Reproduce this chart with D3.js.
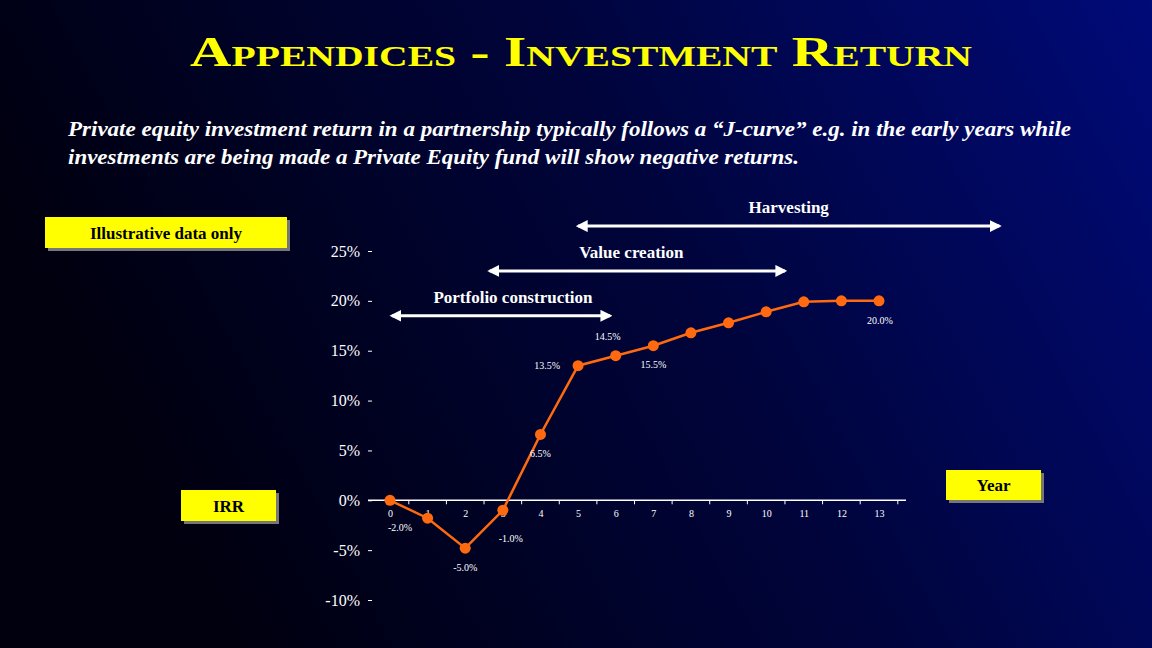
<!DOCTYPE html>
<html><head><meta charset="utf-8">
<script src="https://cdn.jsdelivr.net/npm/d3@7"></script>
<style>body{margin:0;overflow:hidden}</style>
</head><body><svg id="c" width="1152" height="648"></svg>
<script>
const years=[0,1,2,3,4,5,6,7,8,9,10,11,12,13];
const irr=[0,-1.8,-4.8,-1.0,6.6,13.5,14.5,15.5,16.8,17.8,18.9,19.9,20.0,20.0];
const yTicks=[-10,-5,0,5,10,15,20,25];
const pointLabels=[
 {i:0,t:"-2.0%",dx:10,dy:31},{i:2,t:"-5.0%",dx:0,dy:23},{i:3,t:"-1.0%",dx:8,dy:32},
 {i:4,t:"6.5%",dx:0,dy:23},{i:5,t:"13.5%",dx:-31,dy:3},{i:6,t:"14.5%",dx:-8,dy:-16},
 {i:7,t:"15.5%",dx:0,dy:22},{i:13,t:"20.0%",dx:1,dy:23}];
const phases=[
 {name:"Harvesting",x0:5.0,x1:16.2,y:27.5,lx:0},
 {name:"Value creation",x0:2.65,x1:10.5,y:23,lx:-6},
 {name:"Portfolio construction",x0:0.05,x1:5.85,y:18.5,lx:12}];

const svg=d3.select("#c");
const defs=svg.append("defs");
const g=defs.append("linearGradient").attr("id","bg").attr("x1","0").attr("x2","1").attr("y1","0.3").attr("y2","0");
g.append("stop").attr("offset","0").attr("stop-color","#00000f");
g.append("stop").attr("offset","0.5").attr("stop-color","#00043a");
g.append("stop").attr("offset","1").attr("stop-color","#000a78");
defs.append("marker").attr("id","ar").attr("viewBox","0 0 10 10").attr("refX",8).attr("refY",5)
 .attr("markerWidth",4).attr("markerHeight",4).attr("orient","auto-start-reverse")
 .append("path").attr("d","M0,0L10,5L0,10z").attr("fill","#fff");
svg.append("rect").attr("width",1152).attr("height",648).attr("fill","url(#bg)");

svg.append("text").attr("x",190).attr("y",66)
 .attr("font-family","Liberation Serif").attr("font-weight","bold").attr("font-size",42)
 .attr("fill","#ffff00").style("font-variant","small-caps")
 .attr("textLength",782).attr("lengthAdjust","spacingAndGlyphs")
 .text("Appendices - Investment Return");
const sub=svg.append("text").attr("font-family","Liberation Serif").attr("font-style","italic")
 .attr("font-weight","bold").attr("font-size",20).attr("fill","#fff");
sub.append("tspan").attr("x",68).attr("y",136).attr("textLength",1003).attr("lengthAdjust","spacingAndGlyphs")
 .text("Private equity investment return in a partnership typically follows a \u201cJ-curve\u201d e.g. in the early years while");
sub.append("tspan").attr("x",68).attr("y",164).attr("textLength",731).attr("lengthAdjust","spacingAndGlyphs")
 .text("investments are being made a Private Equity fund will show negative returns.");

const x=d3.scaleLinear().domain([0,13]).range([390,879]);
const y=d3.scaleLinear().domain([-10,25]).range([600,251]);

const ya=svg.append("g").attr("transform","translate(372,0)")
 .call(d3.axisLeft(y).tickValues(yTicks).tickFormat(d=>d+"%").tickSize(4).tickPadding(8));
ya.select(".domain").remove();
ya.selectAll("line").attr("stroke","#fff");
ya.selectAll("text").attr("fill","#fff").attr("font-family","Liberation Serif").attr("font-size",16);

const xa=svg.append("g").attr("transform",`translate(0,${y(0)})`)
 .call(d3.axisBottom(x).tickValues(years).tickSize(0).tickPadding(10));
xa.select(".domain").attr("d","M368,0H906").attr("stroke","#fff").attr("stroke-width",1.5);
xa.selectAll("text").attr("fill","#fff").attr("font-family","Liberation Serif").attr("font-size",10);
xa.selectAll(".mt").data(d3.range(0,14.5,0.5).filter(v=>v%1!==0)).enter().append("line")
 .attr("x1",d=>x(d)).attr("x2",d=>x(d)).attr("y1",0).attr("y2",4).attr("stroke","#fff");

svg.append("path").datum(irr).attr("fill","none").attr("stroke","#ff6a10").attr("stroke-width",2.5)
 .attr("d",d3.line().x((d,i)=>x(years[i])).y(d=>y(d)));
svg.selectAll(".pt").data(irr).enter().append("circle").attr("cx",(d,i)=>x(years[i])).attr("cy",d=>y(d))
 .attr("r",5.5).attr("fill","#ff6a10");
svg.selectAll(".pl").data(pointLabels).enter().append("text")
 .attr("x",d=>x(years[d.i])+d.dx).attr("y",d=>y(irr[d.i])+d.dy).attr("text-anchor","middle")
 .attr("font-family","Liberation Serif").attr("font-size",10).attr("fill","#fff").text(d=>d.t);

phases.forEach(p=>{
 svg.append("line").attr("x1",x(p.x0)).attr("x2",x(p.x1)).attr("y1",y(p.y)).attr("y2",y(p.y))
  .attr("stroke","#fff").attr("stroke-width",3).attr("marker-start","url(#ar)").attr("marker-end","url(#ar)");
 svg.append("text").attr("x",(x(p.x0)+x(p.x1))/2+p.lx).attr("y",y(p.y)-13).attr("text-anchor","middle")
  .attr("font-family","Liberation Serif").attr("font-weight","bold").attr("font-size",17).attr("fill","#fff").text(p.name);
});

function box(x0,y0,w,h,t){
 svg.append("rect").attr("x",x0+3).attr("y",y0+3).attr("width",w).attr("height",h).attr("fill","#777");
 svg.append("rect").attr("x",x0).attr("y",y0).attr("width",w).attr("height",h).attr("fill","#ffff00");
 svg.append("text").attr("x",x0+w/2).attr("y",y0+h/2+6).attr("text-anchor","middle")
  .attr("font-family","Liberation Serif").attr("font-weight","bold").attr("font-size",17).attr("fill","#000").text(t);
}
box(45,217,242,31,"Illustrative data only");
box(181,490,95,31,"IRR");
box(946,470,95,30,"Year");
</script></body></html>
